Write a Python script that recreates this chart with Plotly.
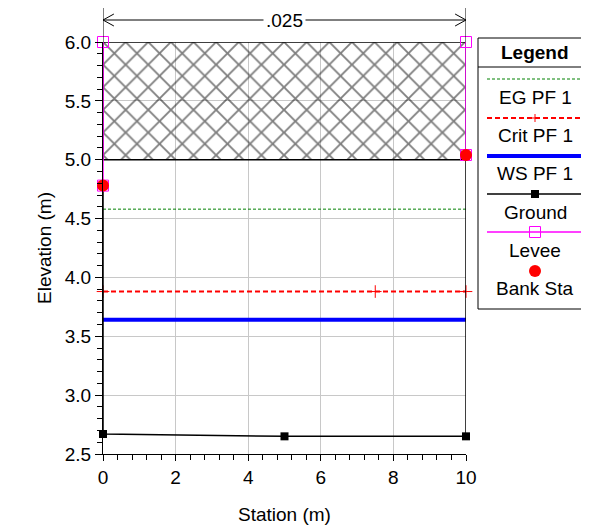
import plotly.graph_objects as go

# ---- data ----
ground_x = [0, 0, 5, 10, 10]
ground_y = [4.78, 2.67, 2.65, 2.65, 5.04]
ground_mx = [0, 5, 10]
ground_my = [2.67, 2.65, 2.65]
eg_x = [0, 10]
eg_y = [4.58, 4.58]
crit_x = [0, 10]
crit_y = [3.88, 3.88]
crit_mx = [0, 7.5, 10]
ws_x = [0, 10]
ws_y = [3.64, 3.64]
levee_left_x = [0, 0]
levee_left_y = [4.78, 6.0]
levee_right_x = [10, 10]
levee_right_y = [5.04, 6.0]
bank_x = [0, 10]
bank_y = [4.78, 5.04]
obstr_x = [0, 10, 10, 0, 0]
obstr_y = [5.0, 5.0, 6.0, 6.0, 5.0]
n_value = ".025"
n_x = [0, 10]
legend_labels = ["EG PF 1", "Crit PF 1", "WS PF 1", "Ground", "Levee", "Bank Sta"]

FONT = "Arial, Liberation Sans, sans-serif"
FS = 19
OFF = 8  # browser default body margin

fig = go.Figure()

# obstruction hatch
fig.add_trace(go.Scatter(x=obstr_x, y=obstr_y, mode="lines", fill="toself",
                         fillcolor="rgba(0,0,0,0)",
                         fillpattern=dict(shape="x", size=16, solidity=0.22,
                                          fgcolor="black", bgcolor="rgba(0,0,0,0)"),
                         line=dict(color="black", width=1.5), hoverinfo="skip"))
# EG
fig.add_trace(go.Scatter(x=eg_x, y=eg_y, mode="lines",
                         line=dict(color="#008000", width=1, dash="3px,2px")))
# Crit
fig.add_trace(go.Scatter(x=crit_x, y=crit_y, mode="lines",
                         line=dict(color="#ff0000", width=2, dash="5px,3px")))
fig.add_trace(go.Scatter(x=crit_mx, y=[crit_y[0]] * len(crit_mx), mode="markers",
                         marker=dict(symbol="line-ns", size=9, color="red",
                                     line=dict(color="red", width=1)), cliponaxis=False))
fig.add_trace(go.Scatter(x=crit_mx, y=[crit_y[0]] * len(crit_mx), mode="markers",
                         marker=dict(symbol="line-ew", size=9, color="red",
                                     line=dict(color="red", width=1)), cliponaxis=False))
# WS
fig.add_trace(go.Scatter(x=ws_x, y=ws_y, mode="lines",
                         line=dict(color="blue", width=4)))
# Ground
fig.add_trace(go.Scatter(x=ground_x, y=ground_y, mode="lines",
                         line=dict(color="black", width=1.5), cliponaxis=False))
fig.add_trace(go.Scatter(x=ground_mx, y=ground_my, mode="markers",
                         marker=dict(symbol="square", size=8, color="black"), cliponaxis=False))
# Levee
for lx, ly in [(levee_left_x, levee_left_y), (levee_right_x, levee_right_y)]:
    fig.add_trace(go.Scatter(x=lx, y=ly, mode="lines+markers",
                             line=dict(color="#ff00ff", width=1.5),
                             marker=dict(symbol="square-open", size=11, color="#ff00ff",
                                         line=dict(width=1)), cliponaxis=False))
# Bank stations
fig.add_trace(go.Scatter(x=bank_x, y=bank_y, mode="markers",
                         marker=dict(symbol="circle", size=12, color="red"), cliponaxis=False))

shapes = []
annotations = []

# n-value marker lines and dimension arrow
ytop = (454 - 5) / 412
yarr = (454 - 20) / 412
for xv in n_x:
    shapes.append(dict(type="line", xref="x", yref="paper", x0=xv, x1=xv, y0=1.0, y1=ytop,
                       line=dict(color="black", width=1)))
shapes.append(dict(type="line", xref="x", yref="paper", x0=n_x[0], x1=n_x[1], y0=yarr, y1=yarr,
                   line=dict(color="black", width=1)))
ax_len = 0.3
ay = 6 / 412
for (xa, sgn) in [(n_x[0], 1), (n_x[1], -1)]:
    for d in (1, -1):
        shapes.append(dict(type="line", xref="x", yref="paper", x0=xa, x1=xa + sgn * ax_len,
                           y0=yarr, y1=yarr + d * ay, line=dict(color="black", width=1)))
annotations.append(dict(x=(n_x[0] + n_x[1]) / 2, y=yarr, xref="x", yref="paper", text=n_value,
                        showarrow=False, bgcolor="white", font=dict(size=FS, color="black"),
                        borderpad=2, xanchor="center", yanchor="middle"))

# legend (drawn manually: sample above label)
def px_x(p):
    return (p - 103) / 363

def px_y(p):
    return (454 - p) / 412

lx0, lx1 = px_x(478), px_x(593)
shapes.append(dict(type="rect", xref="paper", yref="paper", x0=lx0, x1=lx1,
                   y0=px_y(309), y1=px_y(38), line=dict(color="black", width=1),
                   fillcolor="white", layer="below"))
shapes.append(dict(type="line", xref="paper", yref="paper", x0=lx0, x1=lx1,
                   y0=px_y(67), y1=px_y(67), line=dict(color="black", width=1)))
annotations.append(dict(x=px_x(535), y=px_y(53), xref="paper", yref="paper",
                        text="<b>Legend</b>", showarrow=False, font=dict(size=FS, color="black"),
                        xanchor="center", yanchor="middle"))
sx0, sx1, sxc = px_x(487), px_x(583), px_x(535)
sample_y = [79, 118, 156, 194, 232, 271]
label_y = [97, 135, 173, 212, 250, 288]
styles = [dict(color="#008000", width=1, dash="3px,2px"),
          dict(color="#ff0000", width=2, dash="5px,3px"),
          dict(color="blue", width=4),
          dict(color="black", width=1.5),
          dict(color="#ff00ff", width=1.5)]
for i, st in enumerate(styles):
    yy = px_y(sample_y[i])
    shapes.append(dict(type="line", xref="paper", yref="paper", x0=sx0, x1=sx1, y0=yy, y1=yy,
                       line=st))
# crit plus
yy = px_y(sample_y[1])
shapes.append(dict(type="line", xref="paper", yref="paper", xsizemode="pixel", ysizemode="pixel",
                   xanchor=sxc, yanchor=yy, x0=-4, x1=4, y0=0, y1=0, line=dict(color="red", width=1)))
shapes.append(dict(type="line", xref="paper", yref="paper", xsizemode="pixel", ysizemode="pixel",
                   xanchor=sxc, yanchor=yy, x0=0, x1=0, y0=-4, y1=4, line=dict(color="red", width=1)))
# ground square
yy = px_y(sample_y[3])
shapes.append(dict(type="rect", xref="paper", yref="paper", xsizemode="pixel", ysizemode="pixel",
                   xanchor=sxc, yanchor=yy, x0=-4, x1=4, y0=-4, y1=4,
                   fillcolor="black", line=dict(color="black", width=0)))
# levee open square
yy = px_y(sample_y[4])
shapes.append(dict(type="rect", xref="paper", yref="paper", xsizemode="pixel", ysizemode="pixel",
                   xanchor=sxc, yanchor=yy, x0=-5.5, x1=5.5, y0=-5.5, y1=5.5,
                   fillcolor="rgba(0,0,0,0)", line=dict(color="#ff00ff", width=1)))
# bank dot
yy = px_y(sample_y[5])
shapes.append(dict(type="circle", xref="paper", yref="paper", xsizemode="pixel", ysizemode="pixel",
                   xanchor=sxc, yanchor=yy, x0=-6, x1=6, y0=-6, y1=6,
                   fillcolor="red", line=dict(color="red", width=0)))
for lab, ly in zip(legend_labels, label_y):
    annotations.append(dict(x=sxc, y=px_y(ly), xref="paper", yref="paper", text=lab,
                            showarrow=False, font=dict(size=FS, color="black"),
                            xanchor="center", yanchor="middle"))

fig.update_layout(
    width=589 - OFF, height=529 - OFF,
    margin=dict(l=103 - OFF, r=123, t=42 - OFF, b=75, autoexpand=False),
    paper_bgcolor="white", plot_bgcolor="white",
    showlegend=False,
    font=dict(family=FONT, size=FS, color="black"),
    shapes=shapes, annotations=annotations,
    xaxis=dict(range=[0, 10], dtick=2, tick0=0, showline=True, linecolor="black", linewidth=1,
               ticks="outside", ticklen=6, tickcolor="black", showgrid=True, gridcolor="#c8c8c8",
               zeroline=False, tickfont=dict(size=FS), automargin=False,
               minor=dict(dtick=0.4, ticks="outside", ticklen=5, tickcolor="black", showgrid=False),
               title=dict(text="Station (m)", font=dict(size=FS), standoff=20)),
    yaxis=dict(range=[2.5, 6.0], dtick=0.5, tick0=2.5, tickformat=".1f", showline=True,
               linecolor="black", linewidth=1, ticks="outside", ticklen=7, tickcolor="black",
               showgrid=True, gridcolor="#c8c8c8", zeroline=False, tickfont=dict(size=FS),
               automargin=False,
               minor=dict(dtick=0.1, ticks="outside", ticklen=5, tickcolor="black", showgrid=False),
               title=dict(text="Elevation (m)", font=dict(size=FS), standoff=8)),
)

fig.write_html("out.html")
